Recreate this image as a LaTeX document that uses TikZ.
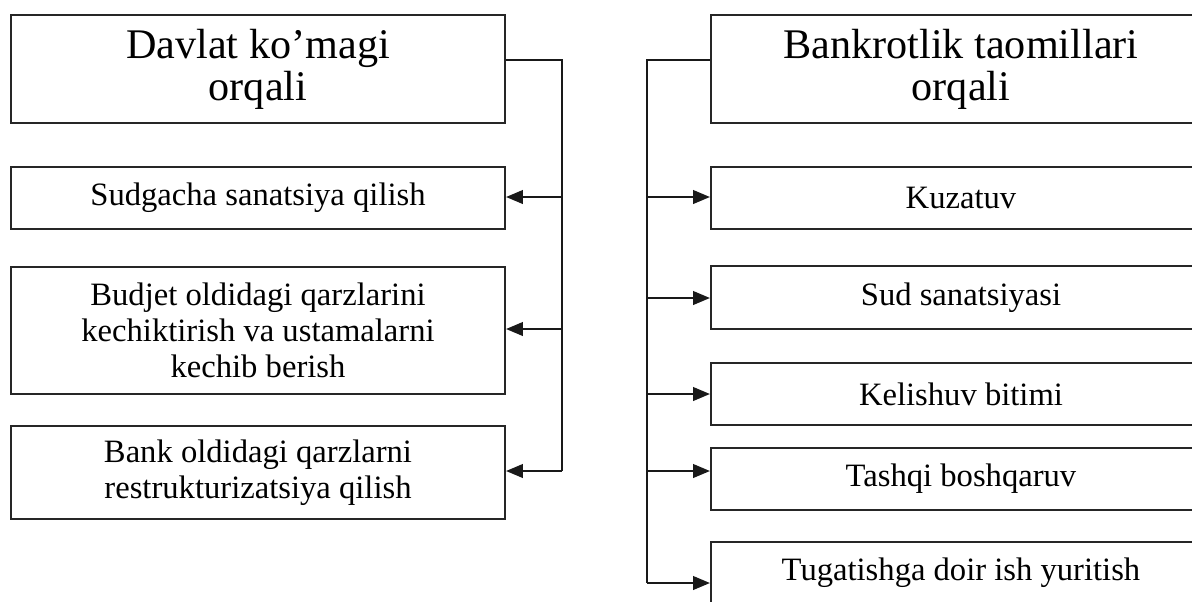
\documentclass[tikz,border=0pt]{standalone}
\usepackage{fontspec}
\setmainfont{Liberation Serif}
\usetikzlibrary{arrows.meta}

\tikzset{
  box/.style={draw=black!85,line width=1.4pt,rectangle,align=center,inner sep=0pt},
  small/.style={font=\fontsize{23.2}{25.6}\selectfont},
  big/.style={font=\fontsize{30}{30}\selectfont},
  line/.style={draw=black!90,line width=1.4pt},
  arr/.style={line,-{Triangle[length=0.42cm,width=0.34cm]}}
}

\begin{document}
\begin{tikzpicture}[x=0.025cm,y=-0.025cm]
	\useasboundingbox (0,0) rectangle (1192,601);
	\clip (0,0) rectangle (1192,601);
	
	% left column
	\node[box,big,minimum width=12.35cm,minimum height=2.7cm] (davlat) at (258,69) {Davlat ko’magi\\orqali};
	\node[box,small,minimum width=12.35cm,minimum height=1.55cm] (sudgacha) at (258,198) {Sudgacha sanatsiya qilish};
	\node[box,small,minimum width=12.35cm,minimum height=3.175cm] (budjet) at (258,330.5) {Budjet oldidagi qarzlarini\\kechiktirish va ustamalarni\\kechib berish};
	\node[box,small,minimum width=12.35cm,minimum height=2.325cm] (bank) at (258,472.5) {Bank oldidagi qarzlarni\\restrukturizatsiya qilish};
	
	\coordinate (l0) at (562,60);
	\coordinate (l1) at (562,197);
	\coordinate (l2) at (562,329);
	\coordinate (l3) at (562,471);
	\draw[line] (davlat.east |- l0) -- (l0) -- (l3);
	\draw[arr] (l1) -- (l1 -| sudgacha.east);
	\draw[arr] (l2) -- (l2 -| budjet.east);
	\draw[arr] (l3) -- (l3 -| bank.east);
	
	% right column
	\node[box,big,minimum width=12.5cm,minimum height=2.7cm] (bankrot) at (961,69) {Bankrotlik taomillari\\orqali};
	\node[box,small,minimum width=12.5cm,minimum height=1.55cm] (kuzatuv) at (961,198) {Kuzatuv};
	\node[box,small,minimum width=12.5cm,minimum height=1.575cm] (sud) at (961,297.5) {Sud sanatsiyasi};
	\node[box,small,minimum width=12.5cm,minimum height=1.55cm] (kelishuv) at (961,394) {Kelishuv bitimi};
	\node[box,small,minimum width=12.5cm,minimum height=1.55cm] (tashqi) at (961,479) {Tashqi boshqaruv};
	\node[box,small,minimum width=12.5cm,minimum height=1.55cm] (tugatish) at (961,573) {Tugatishga doir ish yuritish};
	
	\coordinate (r0) at (647,60);
	\coordinate (r1) at (647,197);
	\coordinate (r2) at (647,298);
	\coordinate (r3) at (647,394);
	\coordinate (r4) at (647,471);
	\coordinate (r5) at (647,583);
	\draw[line] (bankrot.west |- r0) -- (r0) -- (r5);
	\draw[arr] (r1) -- (r1 -| kuzatuv.west);
	\draw[arr] (r2) -- (r2 -| sud.west);
	\draw[arr] (r3) -- (r3 -| kelishuv.west);
	\draw[arr] (r4) -- (r4 -| tashqi.west);
	\draw[arr] (r5) -- (r5 -| tugatish.west);
\end{tikzpicture}
\end{document}
